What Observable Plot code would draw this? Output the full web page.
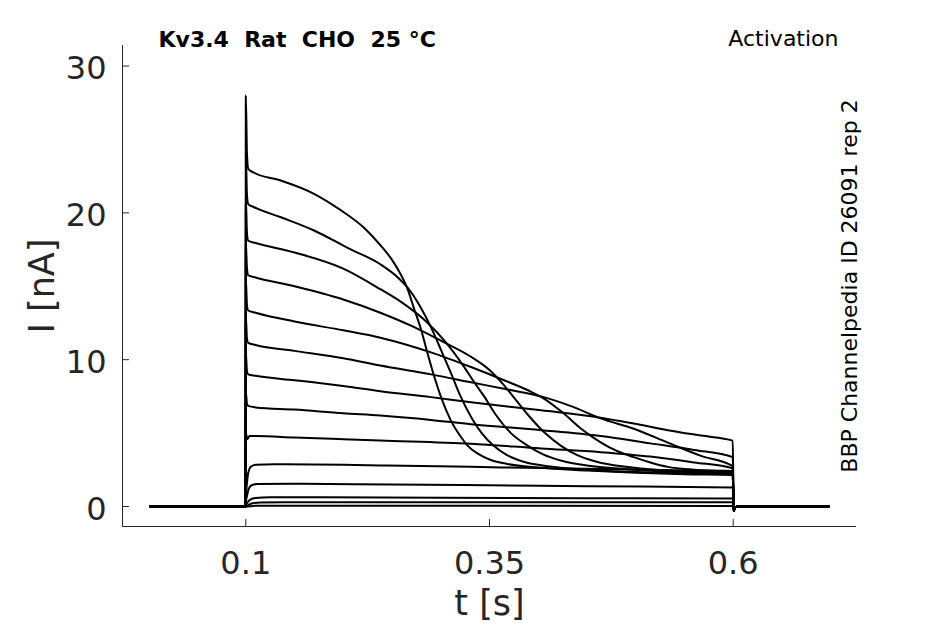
<!DOCTYPE html>
<html><head><meta charset="utf-8">
<script src="https://cdn.jsdelivr.net/npm/d3@7"></script>
<script src="https://cdn.jsdelivr.net/npm/@observablehq/plot@0.6"></script>
<style>html,body{margin:0;padding:0;background:#fff;} #chart svg{display:block;}</style>
</head><body><div id="chart"></div>
<script>
const xTicks = [0.1, 0.35, 0.6];
const yTicks = [0, 10, 20, 30];
const xDomain = [-0.0265, 0.7265];
const yDomain = [-1.362, 31.4];

const holding = [[0.002, 0], [0.0998, 0]];
const tail = [[0.6006, -0.3], [0.602, -0.05], [0.606, 0], [0.698, 0]];

const trace1 = [[0.1,28],[0.1012,24.0],[0.1025,23.0],[0.108,22.75],[0.136,22.2],[0.170,21.3],[0.197,20.2],[0.221,19.0],[0.238,17.8],[0.250,16.8],[0.259,15.8],[0.266,14.8],[0.272,13.6],[0.280,12.0],[0.287,10.3],[0.294,8.7],[0.300,7.5],[0.310,5.9],[0.320,4.8],[0.3275,4.15],[0.338,3.6],[0.352,3.15],[0.368,2.9],[0.40,2.65],[0.45,2.45],[0.5,2.3],[0.55,2.2],[0.5995,2.15]];
const trace2 = [[0.1,24],[0.1012,21.2],[0.1025,20.6],[0.108,20.4],[0.136,19.7],[0.170,18.8],[0.205,17.6],[0.238,16.5],[0.256,15.6],[0.266,14.9],[0.279,13.6],[0.290,12.2],[0.300,10.7],[0.311,9.0],[0.320,7.55],[0.332,6.0],[0.342,5.0],[0.354,4.15],[0.368,3.5],[0.385,3.05],[0.41,2.75],[0.45,2.5],[0.5,2.35],[0.55,2.25],[0.5995,2.2]];
const trace3 = [[0.1,21],[0.1012,18.6],[0.1025,18.1],[0.11,17.95],[0.15,17.3],[0.2,16.2],[0.238,14.8],[0.26,13.9],[0.285,12.6],[0.305,11.2],[0.322,9.7],[0.334,8.5],[0.344,7.55],[0.357,6.2],[0.372,5.0],[0.389,4.15],[0.405,3.55],[0.425,3.1],[0.45,2.8],[0.49,2.55],[0.54,2.35],[0.5995,2.2]];
const trace4 = [[0.1,18],[0.1012,16.2],[0.1025,15.75],[0.11,15.6],[0.15,15.0],[0.2,14.1],[0.238,13.2],[0.27,12.3],[0.30,11.3],[0.331,10.2],[0.35,9.3],[0.363,8.4],[0.3735,7.55],[0.39,6.2],[0.407,5.0],[0.423,4.15],[0.44,3.5],[0.46,3.05],[0.49,2.7],[0.53,2.45],[0.5995,2.25]];
const trace5 = [[0.1,15.5],[0.1012,13.7],[0.1025,13.35],[0.11,13.2],[0.15,12.6],[0.2,12.0],[0.238,11.5],[0.29,10.5],[0.331,9.5],[0.365,8.6],[0.39,7.9],[0.407,7.3],[0.425,6.4],[0.444,5.3],[0.464,4.37],[0.48,3.8],[0.498,3.36],[0.515,3.0],[0.533,2.7],[0.56,2.5],[0.5995,2.33]];
const trace6 = [[0.1,13],[0.1012,11.4],[0.1025,11.15],[0.11,11.0],[0.15,10.6],[0.2,10.1],[0.238,9.6],[0.29,9.0],[0.331,8.46],[0.37,7.95],[0.403,7.5],[0.435,6.8],[0.464,6.0],[0.498,5.3],[0.533,4.35],[0.567,3.45],[0.5995,2.75]];
const trace7 = [[0.1,10.5],[0.1012,9.2],[0.1025,9.0],[0.11,8.9],[0.15,8.6],[0.2,8.2],[0.238,7.85],[0.29,7.45],[0.331,7.1],[0.403,6.55],[0.464,6.05],[0.498,5.65],[0.533,5.2],[0.567,4.83],[0.5995,4.49]];
const trace8 = [[0.1,7.8],[0.1012,7.0],[0.1025,6.85],[0.11,6.75],[0.15,6.6],[0.2,6.35],[0.238,6.2],[0.29,5.9],[0.331,5.6],[0.403,5.2],[0.464,4.8],[0.515,4.3],[0.56,3.85],[0.5995,3.36]];
const trace9 = [[0.1,5.0],[0.1015,4.6],[0.104,4.8],[0.11,4.8],[0.15,4.7],[0.2,4.58],[0.238,4.49],[0.331,4.27],[0.403,3.95],[0.464,3.7],[0.515,3.4],[0.56,3.0],[0.5995,2.6]];
const trace10 = [[0.1,0.6],[0.1012,1.6],[0.1025,2.3],[0.105,2.7],[0.11,2.85],[0.13,2.88],[0.2,2.84],[0.238,2.8],[0.331,2.7],[0.403,2.62],[0.464,2.55],[0.53,2.48],[0.5995,2.42]];
const trace11 = [[0.1,0.3],[0.1015,0.8],[0.103,1.2],[0.106,1.45],[0.112,1.54],[0.15,1.55],[0.25,1.5],[0.35,1.45],[0.45,1.38],[0.5995,1.3]];
const trace12 = [[0.1,0.1],[0.102,0.3],[0.105,0.48],[0.11,0.58],[0.125,0.63],[0.3,0.6],[0.45,0.57],[0.5995,0.54]];
const trace13 = [[0.102,0.08],[0.106,0.2],[0.115,0.27],[0.14,0.29],[0.5995,0.29]];
const trace14 = [[0.11,0.05],[0.5995,0.04]];

const traces = [trace1, trace2, trace3, trace4, trace5, trace6, trace7, trace8, trace9, trace10, trace11, trace12, trace13, trace14];
const rows = traces.flatMap((tr, k) => [...holding, ...tr, ...tail].map(([t, I]) => ({t, I, k})));

const tickLenX = 7 / 974.8; // 7 px in data units along x
const tickLenY = 7 / 14.68; // 7 px in data units along y

const ink = "#262626";
const chart = Plot.plot({
  width: 945, height: 624,
  marginLeft: 122, marginRight: 89, marginTop: 45, marginBottom: 98,
  style: {fontFamily: "DejaVu Sans", background: "#fff", overflow: "visible"},
  x: {domain: xDomain},
  y: {domain: yDomain},
  marks: [
    Plot.line(rows, {x: "t", y: "I", z: "k", stroke: "#000", strokeWidth: 2, curve: "monotone-x"}),
    Plot.ruleX([xDomain[0]], {y1: yDomain[0], y2: yDomain[1], stroke: ink, strokeWidth: 1}),
    Plot.ruleY([yDomain[0]], {x1: xDomain[0], x2: xDomain[1], stroke: ink, strokeWidth: 1}),
    Plot.ruleX(xTicks, {y1: yDomain[0], y2: yDomain[0] + tickLenY, stroke: ink, strokeWidth: 1}),
    Plot.ruleY(yTicks, {x1: xDomain[0], x2: xDomain[0] + tickLenX, stroke: ink, strokeWidth: 1}),
    Plot.axisX({ticks: xTicks, tickSize: 0, tickPadding: 25, fontSize: 32, fill: ink, label: null, tickFormat: d => String(d)}),
    Plot.axisY({ticks: yTicks, tickSize: 0, tickPadding: 16, fontSize: 32, fill: ink, label: null, dy: 3, tickFormat: d => String(d)}),
    Plot.text(["t [s]"], {frameAnchor: "bottom", dy: 77, fontSize: 35, fill: ink, lineAnchor: "middle"}),
    Plot.text(["I [nA]"], {frameAnchor: "left", dx: -80, rotate: -90, fontSize: 35, fill: ink, textAnchor: "middle", lineAnchor: "middle"}),
    Plot.text(["Kv3.4\u00a0\u00a0Rat\u00a0\u00a0CHO\u00a0\u00a025\u00a0°C"], {frameAnchor: "top-left", dx: 36, dy: -6, textAnchor: "start", lineAnchor: "middle", fontSize: 22, fontWeight: "bold", fill: "#000"}),
    Plot.text(["Activation"], {frameAnchor: "top-right", dx: -18, dy: -7, textAnchor: "end", lineAnchor: "middle", fontSize: 22, fill: "#000"}),
    Plot.text(["BBP Channelpedia ID 26091 rep 2"], {frameAnchor: "right", dx: -7, rotate: -90, textAnchor: "middle", lineAnchor: "middle", fontSize: 22, fill: "#000"})
  ]
});
document.getElementById("chart").append(chart);
</script>
</body></html>
